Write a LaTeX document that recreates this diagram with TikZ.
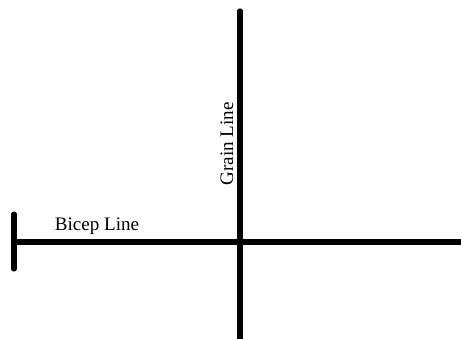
\documentclass[tikz,border=0pt]{standalone}
\usepackage{fontspec}
\setmainfont{Liberation Serif}
\begin{document}
\begin{tikzpicture}[x=0.75pt,y=-0.75pt,
  thick line/.style={line width=3.8pt,line cap=round,black},
  label text/.style={font=\fontsize{14.3}{17}\selectfont,inner sep=0pt}]
\useasboundingbox (0,0) rectangle (461,339);
\coordinate (gtop) at (240,11);
\coordinate (gbot) at (240,345);
\coordinate (bleft) at (14,242);
\coordinate (bright) at (470,242);
\coordinate (ttop) at (14,214);
\coordinate (tbot) at (14,269);
\draw[thick line] (gtop) -- (gbot);
\draw[thick line] (bleft) -- (bright);
\draw[thick line] (ttop) -- (tbot);
\node[label text] (bicep) at (97,226.5) {Bicep Line};
\node[label text,rotate=90] (grain) at (227,144) {Grain Line};
\end{tikzpicture}
\end{document}
